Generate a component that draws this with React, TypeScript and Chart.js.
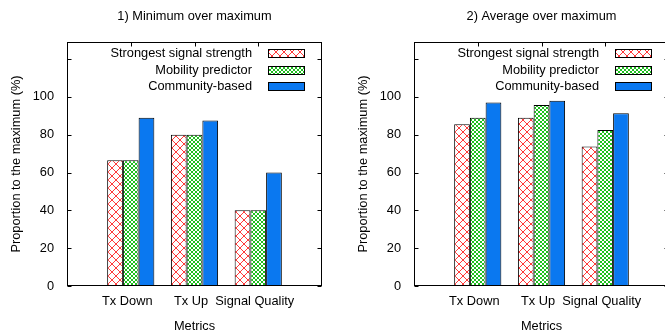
import React, { useEffect, useRef } from 'react';
import { Chart, registerables } from 'chart.js';

Chart.register(...registerables);

// ---- data ----
const categories = ['Tx Down', 'Tx Up', 'Signal Quality'];
const seriesNames = ['Strongest signal strength', 'Mobility predictor', 'Community-based'];

const minStrongest = [66.5, 80, 40];
const minMobility = [66.5, 80, 40];
const minCommunity = [89, 87.5, 60];

const avgStrongest = [85.5, 89, 73.8];
const avgMobility = [89, 95.7, 82.5];
const avgCommunity = [97, 98, 91.3];

const yTickValues = [0, 20, 40, 60, 80, 100, 120];
const yTickLabels = ['0', '20', '40', '60', '80', '100', ''];
const yMin = 0;
const yMax = 129;

const panelTitles = ['1) Minimum over maximum', '2) Average over maximum'];
const xAxisTitle = 'Metrics';
const yAxisTitle = 'Proportion to the maximum (%)';

// ---- style ----
const FONT_FAMILY = "'Liberation Sans', Arial, Helvetica, sans-serif";
const FONT_SIZE = 12.8;
const BLUE = '#0a78f0';
const CANVAS_W = 347;
const CANVAS_H = 345;

Chart.defaults.font.family = FONT_FAMILY;
Chart.defaults.color = '#000';

function makePattern(kind: 'red' | 'green'): CanvasPattern | string {
  const c = document.createElement('canvas');
  const n = kind === 'red' ? 8 : 4;
  c.width = n;
  c.height = n;
  const g = c.getContext('2d');
  if (!g) return '#fff';
  g.fillStyle = '#ffffff';
  g.fillRect(0, 0, n, n);
  g.fillStyle = kind === 'red' ? '#ff3a3a' : '#1fbf1f';
  for (let i = 0; i < n; i++) {
    g.fillRect(i, i, 1, 1);
    g.fillRect(n - 1 - i, i, 1, 1);
  }
  return g.createPattern(c, 'repeat') || '#fff';
}

const framePlugin = {
  id: 'gnuFrame',
  beforeDatasetsDraw(chart: any) {
    const { ctx, chartArea: a, scales } = chart;
    const x = scales.x;
    const y = scales.y;
    ctx.save();
    ctx.strokeStyle = '#000';
    ctx.lineWidth = 1;
    ctx.beginPath();
    const L = Math.round(a.left) + 0.5;
    const R = Math.round(a.right) - 0.5;
    const T = Math.round(a.top) + 0.5;
    const B = Math.round(a.bottom) - 0.5;
    for (const v of yTickValues) {
      const p = Math.round(y.getPixelForValue(v)) + 0.5;
      ctx.moveTo(L, p);
      ctx.lineTo(L + 4, p);
      ctx.moveTo(R, p);
      ctx.lineTo(R - 4, p);
    }
    for (let i = 1; i <= categories.length; i++) {
      const p = Math.round(x.getPixelForValue(i)) + 0.5;
      ctx.moveTo(p, T);
      ctx.lineTo(p, T + 4);
      ctx.moveTo(p, B);
      ctx.lineTo(p, B - 4);
    }
    ctx.stroke();
    ctx.restore();
  },
  afterDatasetsDraw(chart: any) {
    const { ctx, chartArea: a } = chart;
    ctx.save();
    ctx.strokeStyle = '#000';
    ctx.lineWidth = 1;
    const L = Math.round(a.left) + 0.5;
    const R = Math.round(a.right) - 0.5;
    const T = Math.round(a.top) + 0.5;
    const B = Math.round(a.bottom) - 0.5;
    ctx.strokeRect(L, T, R - L, B - T);

    // legend inside the plot, top-right
    const boxW = 37;
    const boxH = 9;
    const rowH = 16.6;
    const xL = Math.round(a.right - 17 - boxW);
    ctx.font = `${FONT_SIZE}px ${FONT_FAMILY}`;
    ctx.textAlign = 'right';
    ctx.textBaseline = 'middle';
    chart.data.datasets.forEach((ds: any, i: number) => {
      const yT = Math.round(a.top + 7 + i * rowH);
      ctx.fillStyle = ds.backgroundColor;
      ctx.fillRect(xL, yT, boxW, boxH);
      ctx.strokeStyle = '#000';
      ctx.strokeRect(xL + 0.5, yT + 0.5, boxW - 1, boxH - 1);
      ctx.fillStyle = '#000';
      ctx.fillText(ds.label, xL - 16, yT + boxH / 2);
    });
    ctx.restore();
  },
};

function Panel({ title, series, left }: { title: string; series: number[][]; left: number }) {
  const ref = useRef<HTMLCanvasElement | null>(null);

  useEffect(() => {
    if (!ref.current) return;
    const red = makePattern('red');
    const green = makePattern('green');
    const fills = [red, green, BLUE];
    const labels = ['', ...categories, ''];
    const font = { size: FONT_SIZE, family: FONT_FAMILY };

    const chart = new Chart(ref.current, {
      type: 'bar',
      data: {
        labels,
        datasets: series.map((vals, i) => ({
          label: seriesNames[i],
          data: [null, ...vals, null],
          backgroundColor: fills[i] as any,
          borderColor: '#000',
          borderWidth: 1,
          borderSkipped: false,
          categoryPercentage: 0.74,
          barPercentage: 1,
        })),
      },
      options: {
        animation: false,
        responsive: false,
        devicePixelRatio: 1,
        events: [],
        layout: { padding: { left: 0, right: 25, top: 0, bottom: 0 } },
        plugins: {
          legend: { display: false },
          tooltip: { enabled: false },
          title: {
            display: true,
            text: title,
            fullSize: false,
            color: '#000',
            font: { size: FONT_SIZE, family: FONT_FAMILY, weight: 'normal' },
            padding: { top: 9, bottom: 17.64 },
          },
        },
        scales: {
          x: {
            type: 'category',
            offset: false,
            grid: { display: false, drawTicks: false },
            border: { display: false },
            ticks: {
              autoSkip: false,
              maxRotation: 0,
              minRotation: 0,
              padding: 7.3,
              labelOffset: -3.5,
              color: '#000',
              font,
            },
            title: {
              display: true,
              text: xAxisTitle,
              color: '#000',
              font,
              padding: { top: 0, bottom: 10.8 },
            },
            afterFit: (s: any) => {
              s.height = CANVAS_H - 286;
            },
          },
          y: {
            min: yMin,
            max: yMax,
            grid: { display: false, drawTicks: false },
            border: { display: false },
            afterBuildTicks: (s: any) => {
              s.ticks = yTickValues.map((v) => ({ value: v }));
            },
            ticks: {
              padding: 13,
              color: '#000',
              font,
              callback: (v: any) => {
                const k = yTickValues.indexOf(Number(v));
                return k >= 0 ? yTickLabels[k] : '';
              },
            },
            title: {
              display: true,
              text: yAxisTitle,
              color: '#000',
              font,
              padding: { top: 8.8, bottom: 0 },
            },
            afterFit: (s: any) => {
              s.width = 67;
            },
          },
        },
      } as any,
      plugins: [framePlugin],
    });
    return () => chart.destroy();
  }, [title, series]);

  return (
    <canvas
      ref={ref}
      width={CANVAS_W}
      height={CANVAS_H}
      style={{ position: 'absolute', left, top: 0, width: CANVAS_W, height: CANVAS_H }}
    />
  );
}

const minSeries = [minStrongest, minMobility, minCommunity];
const avgSeries = [avgStrongest, avgMobility, avgCommunity];

export default function App() {
  return (
    <div
      style={{
        position: 'fixed',
        left: 0,
        top: 0,
        width: 665,
        height: 335,
        overflow: 'hidden',
        background: '#fff',
      }}
    >
      <Panel title={panelTitles[0]} series={minSeries} left={0} />
      <Panel title={panelTitles[1]} series={avgSeries} left={347} />
    </div>
  );
}
